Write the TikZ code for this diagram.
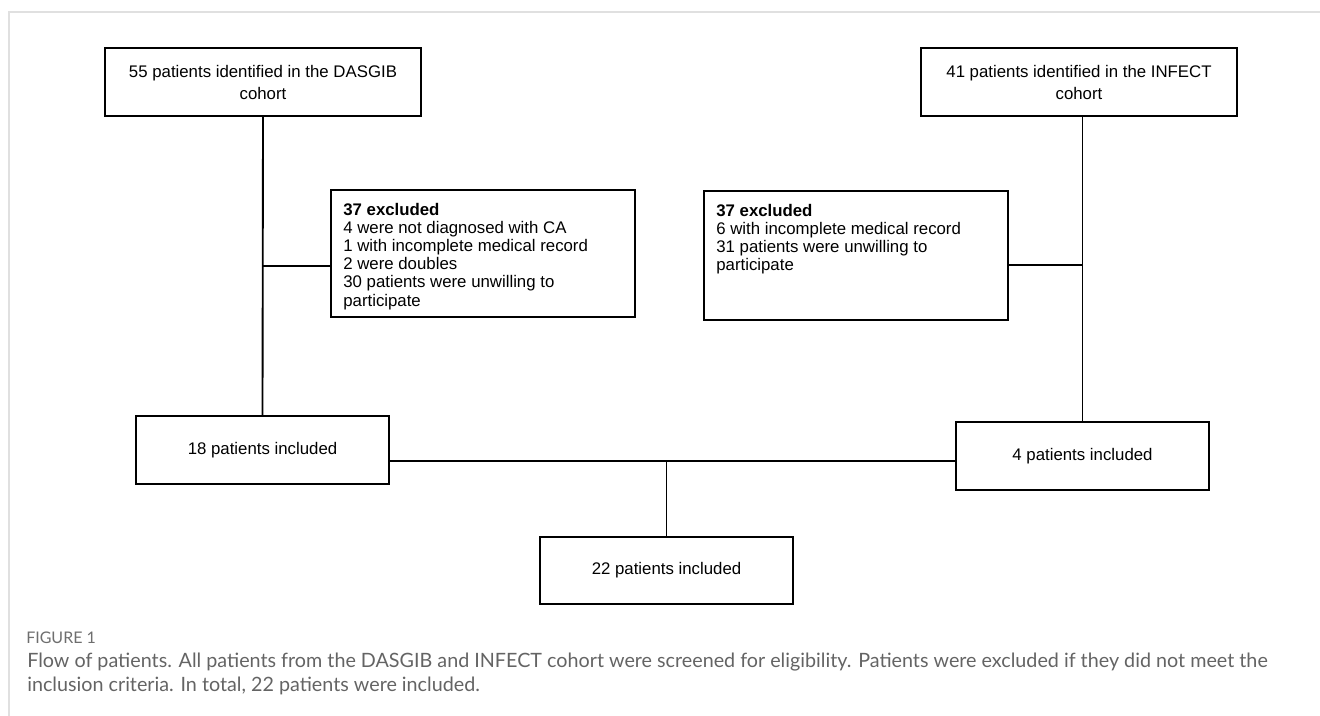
\documentclass[tikz,border=0pt]{standalone}
\usepackage{fontspec}
\setmainfont{Liberation Sans}
\newfontfamily\captionfont{Lato}
\usepackage{xcolor}
\usepackage{tikz}
\usetikzlibrary{positioning, calc}
\definecolor{framecolor}{RGB}{224, 224, 224}
\definecolor{captioncolor}{RGB}{100, 100, 100}
\definecolor{labelcolor}{RGB}{110, 110, 110}

\begin{document}
\begin{tikzpicture}[
    x=0.75pt, y=-0.75pt,
    flowbox/.style={draw, line width=1.4pt, minimum width=237pt, minimum height=51pt, align=center, inner sep=2pt, font=\fontsize{12.6}{16.5}\selectfont},
    inclbox/.style={flowbox, minimum width=190pt},
    exclbox/.style={draw, line width=1.4pt, minimum width=228pt, minimum height=95.5pt},
    excltext/.style={anchor=north west, inner sep=0pt, align=left, font=\fontsize{12.6}{13.6}\selectfont},
    link/.style={line width=1.4pt},
]
    \useasboundingbox (0, 0) rectangle (1320, 716);

    % Frame
    \draw[framecolor, line width=1.5pt] (9, 716) -- (9, 12) -- (1320, 12);

    % Cohorts
    \node[flowbox] (dasgib) at (263, 82) {55 patients identified in the DASGIB\\cohort};
    \node[flowbox] (infect) at (1079, 82) {41 patients identified in the INFECT\\cohort};

    % Exclusions
    \node[exclbox] (exclleft) at (483, 253.5) {};
    \node[excltext] at ($(exclleft.north west)+(13, 14)$) {\textbf{37 excluded}\\4 were not diagnosed with CA\\1 with incomplete medical record\\2 were doubles\\30 patients were unwilling to\\participate};

    \node[exclbox, minimum height=97pt] (exclright) at (856, 255.5) {};
    \node[excltext] at ($(exclright.north west)+(13, 14)$) {\textbf{37 excluded}\\6 with incomplete medical record\\31 patients were unwilling to\\participate};

    % Included
    \node[inclbox] (inclleft) at (262.5, 450) {18 patients included};
    \node[inclbox] (inclright) at (1082.5, 456) {4 patients included};
    \node[inclbox, minimum height=50pt] (incltotal) at (666.5, 570.5) {22 patients included};

    % Connectors
    \coordinate (splitleft) at (263, 266);
    \coordinate (splitright) at (1082.5, 265);
    \coordinate (merge) at (666.5, 461);
    \draw[link] (dasgib.south) -- (inclleft.north);
    \draw[link] (splitleft) -- (splitleft -| exclleft.west);
    \draw[link] (inclright.north |- infect.south) -- (inclright.north);
    \draw[link] (splitright) -- (splitright -| exclright.east);
    \draw[link] (merge -| inclleft.east) -- (merge -| inclright.west);
    \draw[link] (merge) -- (incltotal.north);

    % Caption
    \node[anchor=base west, inner sep=0pt, text=labelcolor, font=\captionfont\fontsize{12}{14}\selectfont] (figlabel) at (26, 643) {FIGURE 1};
    \node[anchor=north west, inner sep=0pt, align=left, text=captioncolor, font=\captionfont\fontsize{14.8}{18}\selectfont] (caption) at (27, 653) {Flow of patients. All patients from the DASGIB and INFECT cohort were screened for eligibility. Patients were excluded if they did not meet the\\inclusion criteria. In total, 22 patients were included.};
\end{tikzpicture}
\end{document}
